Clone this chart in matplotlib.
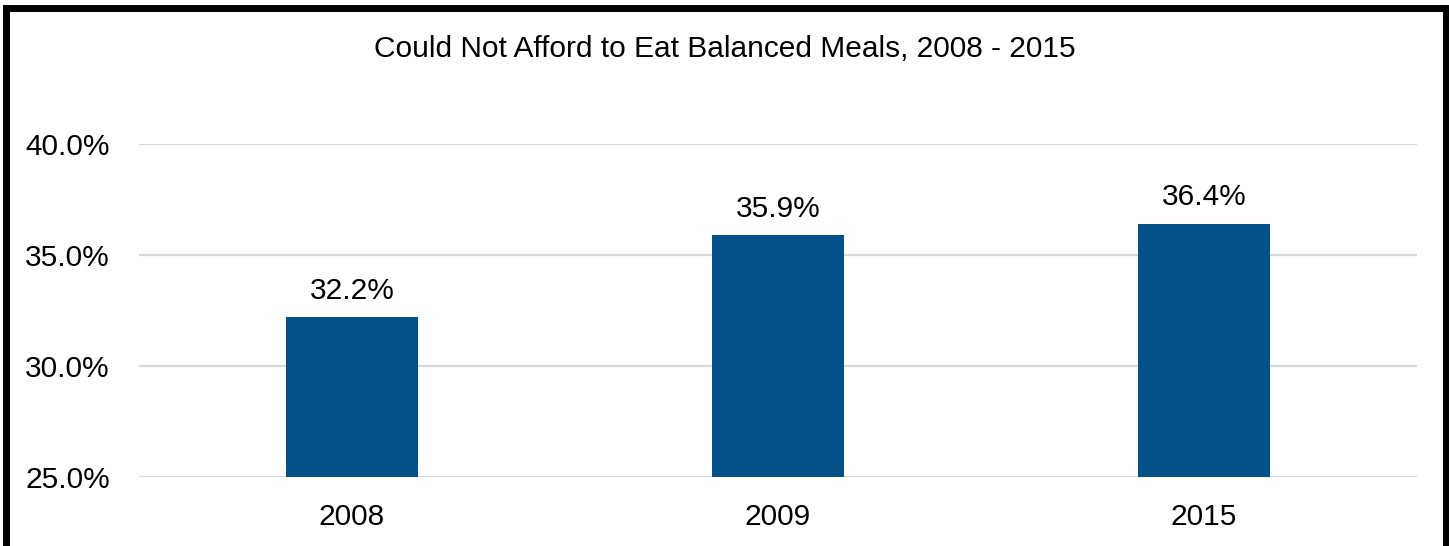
import numpy as np
import matplotlib.pyplot as plt
from matplotlib.lines import Line2D
from matplotlib.ticker import FuncFormatter

plt.rcParams['font.family'] = ['Liberation Sans', 'DejaVu Sans']

# data
years = ['2008', '2009', '2015']
values = [32.2, 35.9, 36.4]
yticks = [25, 30, 35, 40]

fig = plt.figure(figsize=(14.49, 5.46), dpi=100)
ax = fig.add_axes([139/1449, 1-477/546, (1417-139)/1449, (477-144)/546])

x = np.arange(len(years))
bars = ax.bar(x, values, width=0.31, color='#035188', zorder=3)

ax.set_xlim(-0.5, len(years)-0.5)
ax.set_ylim(25, 40)
ax.set_yticks(yticks)
ax.yaxis.set_major_formatter(FuncFormatter(lambda v, p: f'{v:.1f}%'))
ax.set_xticks(x)
ax.set_xticklabels(years)
ax.grid(axis='y', color='#d9d9d9', linewidth=1.6, zorder=0)
for s in ax.spines.values():
    s.set_visible(False)
ax.tick_params(axis='both', length=0, labelsize=21.5, colors='black')
ax.tick_params(axis='y', pad=21)
ax.tick_params(axis='x', pad=19)

for b, v in zip(bars, values):
    ax.annotate(f'{v:.1f}%', (b.get_x() + b.get_width()/2, v), xytext=(0, 9),
                textcoords='offset points', ha='center', va='bottom', fontsize=21.5)

fig.text(0.5, 1-49/546, 'Could Not Afford to Eat Balanced Meals, 2008 - 2015',
         ha='center', va='center', fontsize=21.5)

# thick black frame (bottom edge is off the picture)
lw = 5
fig.add_artist(Line2D([6.5/1449, 6.5/1449], [0, 1-8/546], color='black', lw=lw, transform=fig.transFigure))
fig.add_artist(Line2D([6.5/1449, 1446/1449], [1-8/546, 1-8/546], color='black', lw=lw, transform=fig.transFigure))
fig.add_artist(Line2D([1446/1449, 1446/1449], [0, 1-8/546], color='black', lw=lw, transform=fig.transFigure))

fig.savefig('out.png', dpi=100)
